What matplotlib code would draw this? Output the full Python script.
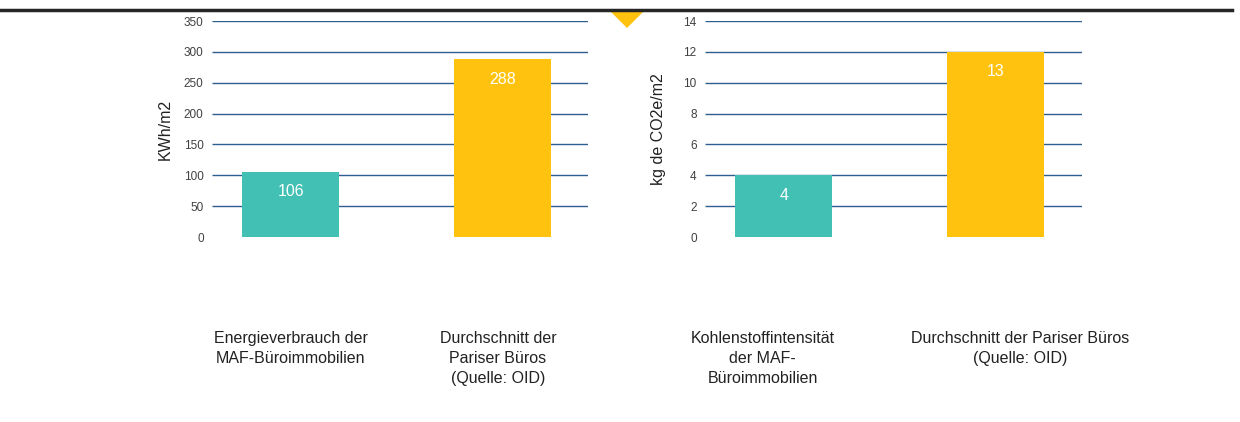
import matplotlib
matplotlib.use("Agg")
from matplotlib import pyplot as plt
from matplotlib.lines import Line2D
from matplotlib.patches import Polygon

plt.rcParams['font.family'] = ['Liberation Sans', 'DejaVu Sans']

# data
energy_labels = ["Energieverbrauch der\nMAF-Büroimmobilien",
                 "Durchschnitt der\nPariser Büros\n(Quelle: OID)"]
energy_values = [106, 288]
energy_ticks = [0, 50, 100, 150, 200, 250, 300, 350]

carbon_labels = ["Kohlenstoffintensität\nder MAF-\nBüroimmobilien",
                 "Durchschnitt der Pariser Büros\n(Quelle: OID)"]
carbon_heights = [4, 12]          # bar heights as drawn
carbon_texts = ["4", "13"]        # values printed in the bars
carbon_ticks = [0, 2, 4, 6, 8, 10, 12, 14]

teal = "#43C0B4"
yellow = "#FFC30F"
gridblue = "#2F5F8F"

W, H = 1240, 422
fig = plt.figure(figsize=(W / 100, H / 100), dpi=100)


def draw_panel(rect, values, texts, ticks, cats, ylabel, label_x):
    ax = fig.add_axes(rect)
    x = [0, 1]
    ax.set_xlim(-0.372, 1.406)
    ax.set_ylim(ticks[0], ticks[-1])
    ax.hlines(ticks[1:], -0.372, 1.406, color=gridblue, lw=1.0, zorder=1)
    bars = ax.bar(x, values, width=0.458, color=[teal, yellow], zorder=2)
    for b, t in zip(bars, texts):
        ax.annotate(t, (b.get_x() + b.get_width() / 2, b.get_height()),
                    xytext=(0, -14.5), textcoords="offset points",
                    ha="center", va="center", color="white", fontsize=11.5)
    for s in ax.spines.values():
        s.set_visible(False)
    ax.set_yticks(ticks)
    ax.set_yticklabels([str(t) for t in ticks], fontsize=8.5, color="#404040")
    # category captions sit a little off the bar centres in the original
    ax.set_xticks(label_x)
    ax.set_xticklabels(cats, fontsize=11.5, color="#222222", linespacing=1.38)
    ax.tick_params(axis="y", length=0, pad=6)
    ax.tick_params(axis="x", length=0, pad=68)
    ax.set_ylabel(ylabel, fontsize=11.5, color="#222222")
    ax.yaxis.set_label_coords(-0.104, 0.5)
    return ax


draw_panel([212 / W, 1 - 237 / H, 376 / W, 216 / H],
           energy_values, [str(v) for v in energy_values],
           energy_ticks, energy_labels, "KWh/m2", [0, 0.98])
draw_panel([705 / W, 1 - 237 / H, 377 / W, 216 / H],
           carbon_heights, carbon_texts,
           carbon_ticks, carbon_labels, "kg de CO2e/m2", [-0.1, 1.114])

# top rule and marker
fig.add_artist(Line2D([0, 1232 / W], [1 - 10 / H, 1 - 10 / H],
                      color="#262626", lw=2.5, transform=fig.transFigure))
fig.add_artist(Polygon([(611 / W, 1 - 12 / H), (643 / W, 1 - 12 / H),
                        (627 / W, 1 - 28 / H)], closed=True,
                       facecolor=yellow, edgecolor="none",
                       transform=fig.transFigure))

fig.savefig("out.png", dpi=100)
